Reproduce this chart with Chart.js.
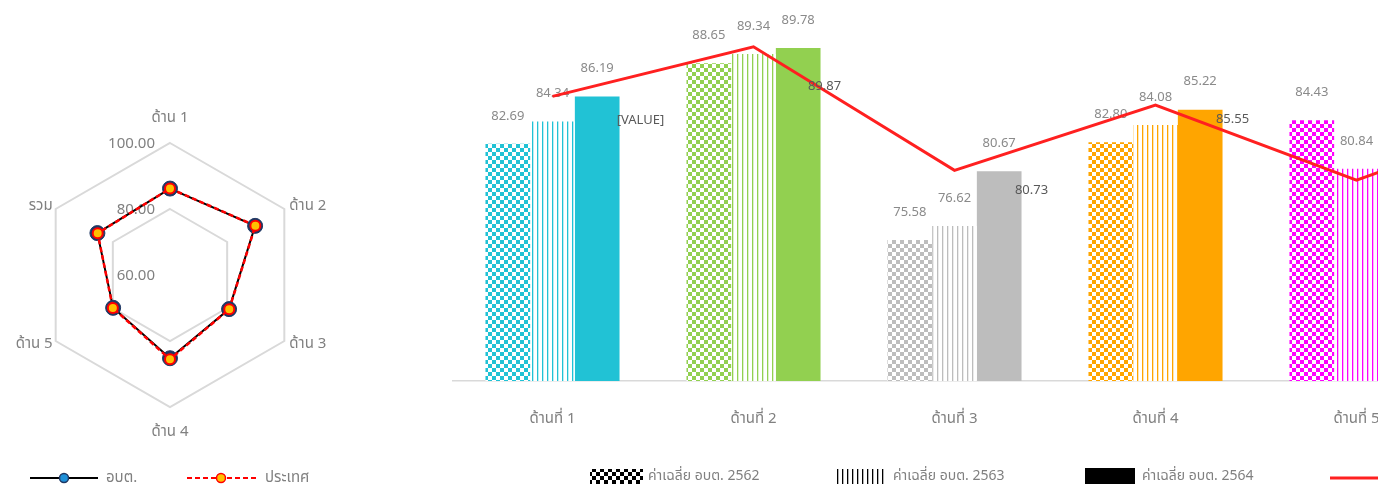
<!DOCTYPE html>
<html>
<head>
<meta charset="utf-8">
<script src="https://cdn.jsdelivr.net/npm/chart.js@4.4.1/dist/chart.umd.min.js"></script>
<style>
html, body { margin: 0; padding: 0; background: #fff; overflow: hidden; width: 1378px; height: 492px; }
#radarBox { position: absolute; left: 0; top: 0; width: 340px; height: 492px; }
#barBox { position: absolute; left: 452px; top: 0; width: 1206px; height: 492px; }
</style>
</head>
<body>
<div id="radarBox"><canvas id="radar"></canvas></div>
<div id="barBox"><canvas id="bars"></canvas></div>
<script>
// radar data
const radarLabels = ['ด้าน 1', 'ด้าน 2', 'ด้าน 3', 'ด้าน 4', 'ด้าน 5', 'รวม'];
const radarTicks = [60, 80, 100];
const obtValues = [86.19, 89.78, 80.67, 85.22, 79.9, 85.4];
const countryValues = [86.2, 89.87, 80.73, 85.55, 80.0, 85.3];

// bar chart data
const categories = ['ด้านที่ 1', 'ด้านที่ 2', 'ด้านที่ 3', 'ด้านที่ 4', 'ด้านที่ 5', 'รวม'];
const avg2562 = [82.69, 88.65, 75.58, 82.80, 84.43, 82.8];
const avg2563 = [84.34, 89.34, 76.62, 84.08, 80.84, 83.0];
const avg2564 = [86.19, 89.78, 80.67, 85.22, 79.9, 85.4];
const countryLine = [86.2, 89.87, 80.73, 85.55, 80.0, 85.3];
const seriesNames = ['ค่าเฉลี่ย อบต. 2562', 'ค่าเฉลี่ย อบต. 2563', 'ค่าเฉลี่ย อบต. 2564', 'ค่าเฉลี่ยประเทศ'];

const FONT = '"Noto Sans", "Noto Sans Thai", Tahoma, sans-serif';
const GREY = '#808080';
const groupColors = ['#21C2D5', '#92D050', '#BDBDBD', '#FFA500', '#FF00FF', '#4472C4'];

function checker(color, cell) {
    const c = document.createElement('canvas');
    c.width = cell * 2; c.height = cell * 2;
    const g = c.getContext('2d');
    g.fillStyle = '#fff';
    g.fillRect(0, 0, c.width, c.height);
    g.fillStyle = color;
    g.fillRect(0, 0, cell, cell);
    g.fillRect(cell, cell, cell, cell);
    return g.createPattern(c, 'repeat');
}

function stripes(color) {
    const c = document.createElement('canvas');
    c.width = 5; c.height = 4;
    const g = c.getContext('2d');
    g.fillStyle = '#fff';
    g.fillRect(0, 0, 5, 4);
    g.fillStyle = color;
    g.fillRect(0, 0, 1, 4);
    g.globalAlpha = 0.3;
    g.fillRect(1, 0, 1, 4);
    return g.createPattern(c, 'repeat');
}

// ---------- radar ----------
const radarExtras = {
    id: 'radarExtras',
    beforeDatasetsDraw(chart) {
        const ctx = chart.ctx, r = chart.scales.r;
        ctx.save();
        ctx.font = '15px ' + FONT;
        ctx.fillStyle = GREY;
        ctx.textAlign = 'right';
        ctx.textBaseline = 'middle';
        radarTicks.forEach(v => {
            const d = r.getDistanceFromCenterForValue(v);
            ctx.fillText(v.toFixed(2), r.xCenter - 15, r.yCenter - d + 1);
        });
        ctx.restore();
    },
    afterDraw(chart) {
        const ctx = chart.ctx, r = chart.scales.r;
        ctx.save();
        ctx.font = '15px ' + FONT;
        ctx.fillStyle = GREY;
        ctx.textBaseline = 'middle';
        radarLabels.forEach((lab, i) => {
            const p = r.getPointPosition(i, r.drawingArea);
            let x = p.x, y = p.y;
            if (Math.abs(p.x - r.xCenter) < 1) {
                ctx.textAlign = 'center';
                y += p.y < r.yCenter ? -25 : 25;
            } else {
                ctx.textAlign = p.x > r.xCenter ? 'left' : 'right';
                x += p.x > r.xCenter ? 5 : -3;
                y += p.y < r.yCenter ? -3 : 3;
            }
            ctx.fillText(lab, x, y);
        });

        // legend
        const ly = 478;
        ctx.lineWidth = 2;
        ctx.strokeStyle = '#000';
        ctx.beginPath(); ctx.moveTo(30, ly); ctx.lineTo(98, ly); ctx.stroke();
        ctx.beginPath(); ctx.arc(64, ly, 4.5, 0, Math.PI * 2);
        ctx.fillStyle = '#1E90D8'; ctx.fill();
        ctx.lineWidth = 1.5; ctx.strokeStyle = '#1F3864'; ctx.stroke();

        ctx.lineWidth = 2;
        ctx.strokeStyle = '#FF0000';
        ctx.setLineDash([5, 3]);
        ctx.beginPath(); ctx.moveTo(187, ly); ctx.lineTo(256, ly); ctx.stroke();
        ctx.setLineDash([]);
        ctx.beginPath(); ctx.arc(221, ly, 4.5, 0, Math.PI * 2);
        ctx.fillStyle = '#FFC000'; ctx.fill();
        ctx.lineWidth = 1.5; ctx.stroke();

        ctx.fillStyle = GREY;
        ctx.textAlign = 'left';
        ctx.font = '15px ' + FONT;
        ctx.fillText('อบต.', 106, ly);
        ctx.fillText('ประเทศ', 265, ly);
        ctx.restore();
    }
};

new Chart(document.getElementById('radar'), {
    type: 'radar',
    data: {
        labels: radarLabels,
        datasets: [
            {
                label: 'อบต.',
                data: obtValues,
                order: 2,
                borderColor: '#000',
                borderWidth: 2,
                fill: false,
                pointRadius: 7.5,
                pointBackgroundColor: '#1F3864',
                pointBorderColor: '#1F3864',
                pointBorderWidth: 1
            },
            {
                label: 'ประเทศ',
                data: countryValues,
                order: 1,
                borderColor: '#FF0000',
                borderWidth: 2.5,
                borderDash: [5, 3],
                fill: false,
                pointRadius: 5,
                pointBackgroundColor: '#FFC000',
                pointBorderColor: '#FF0000',
                pointBorderWidth: 2
            }
        ]
    },
    options: {
        responsive: true,
        maintainAspectRatio: false,
        animation: false,
        layout: { padding: { left: 38, right: 37, top: 143, bottom: 84 } },
        plugins: { legend: { display: false }, tooltip: { enabled: false } },
        scales: {
            r: {
                min: 60,
                max: 100,
                ticks: { display: false, stepSize: 20 },
                pointLabels: { display: false },
                angleLines: { display: false },
                grid: { color: '#D9D9D9', lineWidth: 2 }
            }
        }
    },
    plugins: [radarExtras]
});

// ---------- bars + line ----------
const lineLabelOverride = { 0: '[VALUE]' };
const lineLabelShift = [[88, 24], [71, 40], [77, 20], [77, 14], [77, 20], [77, 20]];
const BAR_LEFT = 452;

const barExtras = {
    id: 'barExtras',
    afterDatasetDraw(chart, args) {
        const ds = chart.data.datasets[args.index];
        if (ds.type === 'line') return;
        const ctx = chart.ctx;
        ctx.save();
        ctx.font = '13px ' + FONT;
        ctx.fillStyle = '#8a8a8a';
        ctx.textAlign = 'center';
        ctx.textBaseline = 'middle';
        args.meta.data.forEach((bar, i) => {
            ctx.fillText(ds.data[i].toFixed(2), bar.x, bar.y - 28);
        });
        ctx.restore();
    },
    afterDatasetsDraw(chart) {
        const ctx = chart.ctx;
        const meta = chart.getDatasetMeta(3);
        ctx.save();
        ctx.font = '13px ' + FONT;
        ctx.fillStyle = '#595959';
        ctx.textAlign = 'center';
        ctx.textBaseline = 'middle';
        meta.data.forEach((pt, i) => {
            const txt = lineLabelOverride[i] || countryLine[i].toFixed(2);
            ctx.fillText(txt, pt.x + lineLabelShift[i][0], pt.y + lineLabelShift[i][1]);
        });
        ctx.restore();
    },
    afterDraw(chart) {
        const ctx = chart.ctx;
        const ly = 476;
        const items = [590, 837, 1085, 1330].map(x => x - BAR_LEFT);
        ctx.save();
        ctx.fillStyle = checker('#000', 4);
        ctx.fillRect(items[0], 469, 53, 15);
        ctx.fillStyle = stripes('#000');
        ctx.fillRect(items[1], 469, 48, 15);
        ctx.fillStyle = '#000';
        ctx.fillRect(items[2], 468, 50, 16);
        ctx.strokeStyle = '#FF2020';
        ctx.lineWidth = 3;
        ctx.beginPath(); ctx.moveTo(items[3], 478); ctx.lineTo(items[3] + 52, 478); ctx.stroke();

        ctx.font = '14px ' + FONT;
        ctx.fillStyle = GREY;
        ctx.textAlign = 'left';
        ctx.textBaseline = 'middle';
        ctx.fillText(seriesNames[0], items[0] + 58, ly);
        ctx.fillText(seriesNames[1], items[1] + 56, ly);
        ctx.fillText(seriesNames[2], items[2] + 57, ly);
        ctx.fillText(seriesNames[3], items[3] + 58, ly);
        ctx.restore();
    }
};

const pats = [
    groupColors.map(c => checker(c, 4)),
    groupColors.map(c => stripes(c)),
    groupColors
];

new Chart(document.getElementById('bars'), {
    type: 'bar',
    data: {
        labels: categories,
        datasets: [
            { label: seriesNames[0], data: avg2562, backgroundColor: pats[0], order: 1 },
            { label: seriesNames[1], data: avg2563, backgroundColor: pats[1], order: 1 },
            { label: seriesNames[2], data: avg2564, backgroundColor: pats[2], order: 1 },
            {
                type: 'line',
                label: seriesNames[3],
                data: countryLine,
                order: 0,
                borderColor: '#FF2020',
                borderWidth: 3,
                pointRadius: 0,
                tension: 0,
                fill: false
            }
        ]
    },
    options: {
        responsive: true,
        maintainAspectRatio: false,
        animation: false,
        layout: { padding: 0 },
        datasets: { bar: { barPercentage: 1, categoryPercentage: 0.667 } },
        plugins: { legend: { display: false }, tooltip: { enabled: false } },
        scales: {
            x: {
                grid: { display: false },
                border: { display: true, color: '#D9D9D9', width: 1.5 },
                ticks: { color: GREY, font: { family: FONT, size: 15 }, padding: 21 },
                afterFit: s => { s.height = 111; }
            },
            y: {
                display: false,
                min: 65.15,
                max: 93.33
            }
        }
    },
    plugins: [barExtras]
});
</script>
</body>
</html>
